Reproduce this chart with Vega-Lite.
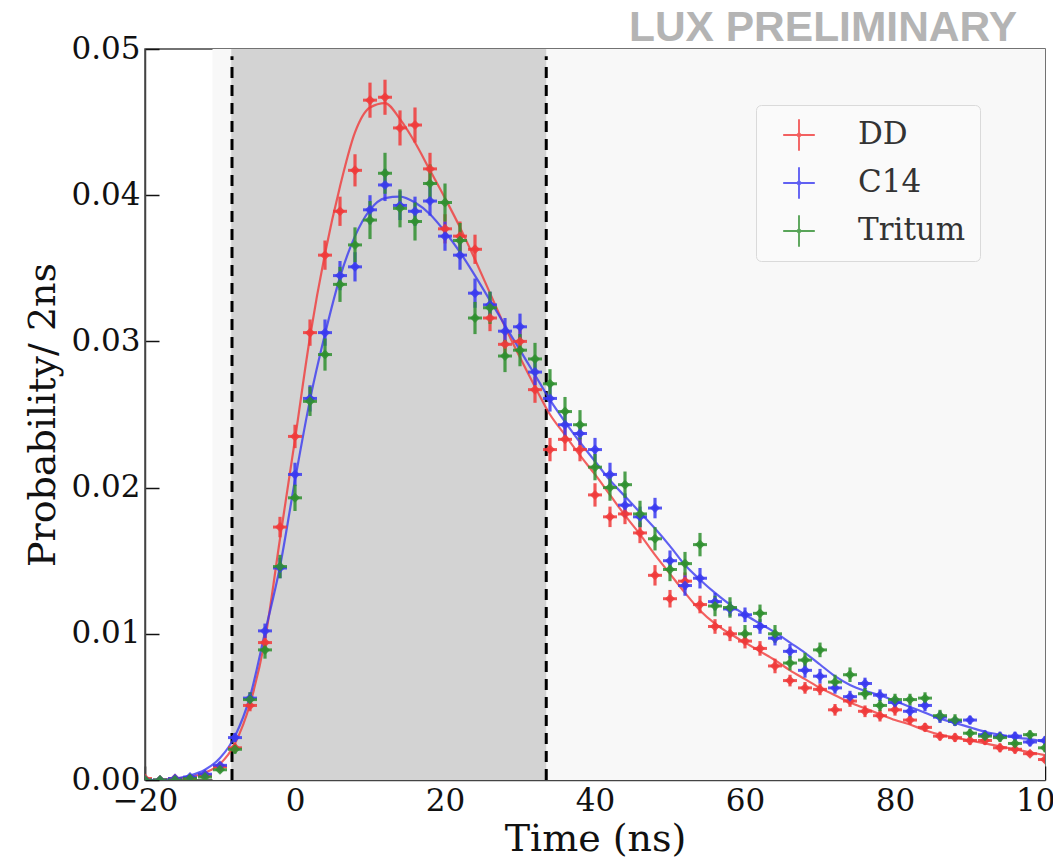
{
  "$schema": "https://vega.github.io/schema/vega-lite/v6.json",
  "width": 900,
  "height": 731,
  "autosize": "none",
  "padding": {"left": 145, "top": 49, "right": 8, "bottom": 83},
  "background": "white",
  "title": {"text": "LUX PRELIMINARY", "anchor": "end", "frame": "group", "font": "Liberation Sans", "fontSize": 42.5, "fontWeight": "bold", "color": "#b4b4b4", "offset": 7, "dx": -28, "dy": 23},
  "config": {
    "view": {"stroke": "#444", "strokeWidth": 1.5},
    "axis": {"labelFont": "DejaVu Serif", "labelFontSize": 31, "labelColor": "#111", "labelFlush": false, "labelOverlap": false, "titleFont": "DejaVu Serif", "titleFontSize": 38, "titleFontWeight": "normal", "titleColor": "#111", "tickSize": -14, "tickColor": "#111", "tickWidth": 1.5, "domainColor": "#444", "domainWidth": 1.5, "grid": false},
    "axisY": {"titlePadding": 8, "labelPadding": 19},
    "axisX": {"titlePadding": 4, "labelPadding": 20}
  },
  "datasets": {
    "pts": [
      {"s":"DD","t":-20,"v":0.0001,"e":0.0001},{"s":"DD","t":-18,"v":0.0000,"e":0.0001},{"s":"DD","t":-16,"v":0.0001,"e":0.0001},{"s":"DD","t":-14,"v":0.0001,"e":0.0001},{"s":"DD","t":-12,"v":0.0003,"e":0.0001},{"s":"DD","t":-10,"v":0.0009,"e":0.0002},{"s":"DD","t":-8,"v":0.0022,"e":0.0003},{"s":"DD","t":-6,"v":0.0051,"e":0.0004},{"s":"DD","t":-4,"v":0.0094,"e":0.0005},{"s":"DD","t":-2,"v":0.0173,"e":0.0007},{"s":"DD","t":0,"v":0.0235,"e":0.0008},{"s":"DD","t":2,"v":0.0306,"e":0.0009},{"s":"DD","t":4,"v":0.0359,"e":0.0010},{"s":"DD","t":6,"v":0.0389,"e":0.0010},{"s":"DD","t":8,"v":0.0417,"e":0.0011},{"s":"DD","t":10,"v":0.0465,"e":0.0012},{"s":"DD","t":12,"v":0.0467,"e":0.0012},{"s":"DD","t":14,"v":0.0446,"e":0.0012},{"s":"DD","t":16,"v":0.0448,"e":0.0012},{"s":"DD","t":18,"v":0.0418,"e":0.0011},{"s":"DD","t":20,"v":0.0377,"e":0.0010},{"s":"DD","t":22,"v":0.0372,"e":0.0010},{"s":"DD","t":24,"v":0.0363,"e":0.0010},{"s":"DD","t":26,"v":0.0316,"e":0.0009},{"s":"DD","t":28,"v":0.0298,"e":0.0009},{"s":"DD","t":30,"v":0.0300,"e":0.0009},{"s":"DD","t":32,"v":0.0267,"e":0.0009},{"s":"DD","t":34,"v":0.0226,"e":0.0008},{"s":"DD","t":36,"v":0.0233,"e":0.0008},{"s":"DD","t":38,"v":0.0226,"e":0.0008},{"s":"DD","t":40,"v":0.0195,"e":0.0008},{"s":"DD","t":42,"v":0.0180,"e":0.0007},{"s":"DD","t":44,"v":0.0182,"e":0.0007},{"s":"DD","t":46,"v":0.0169,"e":0.0007},{"s":"DD","t":48,"v":0.0140,"e":0.0007},{"s":"DD","t":50,"v":0.0124,"e":0.0006},{"s":"DD","t":52,"v":0.0136,"e":0.0006},{"s":"DD","t":54,"v":0.0120,"e":0.0006},{"s":"DD","t":56,"v":0.0105,"e":0.0005},{"s":"DD","t":58,"v":0.0100,"e":0.0005},{"s":"DD","t":60,"v":0.0095,"e":0.0005},{"s":"DD","t":62,"v":0.0090,"e":0.0005},{"s":"DD","t":64,"v":0.0078,"e":0.0005},{"s":"DD","t":66,"v":0.0068,"e":0.0004},{"s":"DD","t":68,"v":0.0063,"e":0.0004},{"s":"DD","t":70,"v":0.0062,"e":0.0004},{"s":"DD","t":72,"v":0.0048,"e":0.0004},{"s":"DD","t":74,"v":0.0054,"e":0.0004},{"s":"DD","t":76,"v":0.0047,"e":0.0004},{"s":"DD","t":78,"v":0.0044,"e":0.0004},{"s":"DD","t":80,"v":0.0048,"e":0.0004},{"s":"DD","t":82,"v":0.0041,"e":0.0003},{"s":"DD","t":84,"v":0.0036,"e":0.0003},{"s":"DD","t":86,"v":0.0030,"e":0.0003},{"s":"DD","t":88,"v":0.0029,"e":0.0003},{"s":"DD","t":90,"v":0.0027,"e":0.0003},{"s":"DD","t":92,"v":0.0027,"e":0.0003},{"s":"DD","t":94,"v":0.0022,"e":0.0003},{"s":"DD","t":96,"v":0.0021,"e":0.0003},{"s":"DD","t":98,"v":0.0018,"e":0.0002},{"s":"DD","t":100,"v":0.0014,"e":0.0002},
      {"s":"C14","t":-20,"v":0.0000,"e":0.0001},{"s":"C14","t":-18,"v":0.0000,"e":0.0001},{"s":"C14","t":-16,"v":0.0001,"e":0.0001},{"s":"C14","t":-14,"v":0.0002,"e":0.0001},{"s":"C14","t":-12,"v":0.0004,"e":0.0001},{"s":"C14","t":-10,"v":0.0010,"e":0.0002},{"s":"C14","t":-8,"v":0.0029,"e":0.0003},{"s":"C14","t":-6,"v":0.0056,"e":0.0004},{"s":"C14","t":-4,"v":0.0102,"e":0.0005},{"s":"C14","t":-2,"v":0.0145,"e":0.0007},{"s":"C14","t":0,"v":0.0209,"e":0.0008},{"s":"C14","t":2,"v":0.0261,"e":0.0009},{"s":"C14","t":4,"v":0.0306,"e":0.0009},{"s":"C14","t":6,"v":0.0345,"e":0.0010},{"s":"C14","t":8,"v":0.0351,"e":0.0010},{"s":"C14","t":10,"v":0.0390,"e":0.0010},{"s":"C14","t":12,"v":0.0407,"e":0.0011},{"s":"C14","t":14,"v":0.0393,"e":0.0010},{"s":"C14","t":16,"v":0.0389,"e":0.0010},{"s":"C14","t":18,"v":0.0396,"e":0.0010},{"s":"C14","t":20,"v":0.0372,"e":0.0010},{"s":"C14","t":22,"v":0.0359,"e":0.0010},{"s":"C14","t":24,"v":0.0333,"e":0.0010},{"s":"C14","t":26,"v":0.0325,"e":0.0009},{"s":"C14","t":28,"v":0.0307,"e":0.0009},{"s":"C14","t":30,"v":0.0310,"e":0.0009},{"s":"C14","t":32,"v":0.0279,"e":0.0009},{"s":"C14","t":34,"v":0.0261,"e":0.0009},{"s":"C14","t":36,"v":0.0243,"e":0.0008},{"s":"C14","t":38,"v":0.0237,"e":0.0008},{"s":"C14","t":40,"v":0.0226,"e":0.0008},{"s":"C14","t":42,"v":0.0209,"e":0.0008},{"s":"C14","t":44,"v":0.0188,"e":0.0008},{"s":"C14","t":46,"v":0.0180,"e":0.0007},{"s":"C14","t":48,"v":0.0186,"e":0.0007},{"s":"C14","t":50,"v":0.0150,"e":0.0007},{"s":"C14","t":52,"v":0.0133,"e":0.0007},{"s":"C14","t":54,"v":0.0138,"e":0.0007},{"s":"C14","t":56,"v":0.0122,"e":0.0006},{"s":"C14","t":58,"v":0.0117,"e":0.0005},{"s":"C14","t":60,"v":0.0113,"e":0.0005},{"s":"C14","t":62,"v":0.0105,"e":0.0005},{"s":"C14","t":64,"v":0.0097,"e":0.0005},{"s":"C14","t":66,"v":0.0088,"e":0.0005},{"s":"C14","t":68,"v":0.0075,"e":0.0005},{"s":"C14","t":70,"v":0.0071,"e":0.0005},{"s":"C14","t":72,"v":0.0063,"e":0.0004},{"s":"C14","t":74,"v":0.0057,"e":0.0004},{"s":"C14","t":76,"v":0.0066,"e":0.0004},{"s":"C14","t":78,"v":0.0058,"e":0.0004},{"s":"C14","t":80,"v":0.0053,"e":0.0004},{"s":"C14","t":82,"v":0.0047,"e":0.0004},{"s":"C14","t":84,"v":0.0051,"e":0.0004},{"s":"C14","t":86,"v":0.0043,"e":0.0004},{"s":"C14","t":88,"v":0.0040,"e":0.0003},{"s":"C14","t":90,"v":0.0041,"e":0.0003},{"s":"C14","t":92,"v":0.0031,"e":0.0003},{"s":"C14","t":94,"v":0.0030,"e":0.0003},{"s":"C14","t":96,"v":0.0030,"e":0.0003},{"s":"C14","t":98,"v":0.0026,"e":0.0003},{"s":"C14","t":100,"v":0.0027,"e":0.0003},
      {"s":"Tritum","t":-20,"v":0.0000,"e":0.0001},{"s":"Tritum","t":-18,"v":0.0000,"e":0.0001},{"s":"Tritum","t":-16,"v":0.0000,"e":0.0001},{"s":"Tritum","t":-14,"v":0.0001,"e":0.0001},{"s":"Tritum","t":-12,"v":0.0002,"e":0.0001},{"s":"Tritum","t":-10,"v":0.0007,"e":0.0002},{"s":"Tritum","t":-8,"v":0.0021,"e":0.0003},{"s":"Tritum","t":-6,"v":0.0055,"e":0.0005},{"s":"Tritum","t":-4,"v":0.0089,"e":0.0006},{"s":"Tritum","t":-2,"v":0.0146,"e":0.0008},{"s":"Tritum","t":0,"v":0.0193,"e":0.0009},{"s":"Tritum","t":2,"v":0.0259,"e":0.0010},{"s":"Tritum","t":4,"v":0.0291,"e":0.0011},{"s":"Tritum","t":6,"v":0.0339,"e":0.0012},{"s":"Tritum","t":8,"v":0.0366,"e":0.0012},{"s":"Tritum","t":10,"v":0.0383,"e":0.0013},{"s":"Tritum","t":12,"v":0.0415,"e":0.0014},{"s":"Tritum","t":14,"v":0.0391,"e":0.0013},{"s":"Tritum","t":16,"v":0.0382,"e":0.0013},{"s":"Tritum","t":18,"v":0.0408,"e":0.0013},{"s":"Tritum","t":20,"v":0.0395,"e":0.0013},{"s":"Tritum","t":22,"v":0.0369,"e":0.0012},{"s":"Tritum","t":24,"v":0.0316,"e":0.0011},{"s":"Tritum","t":26,"v":0.0323,"e":0.0011},{"s":"Tritum","t":28,"v":0.0290,"e":0.0011},{"s":"Tritum","t":30,"v":0.0294,"e":0.0011},{"s":"Tritum","t":32,"v":0.0288,"e":0.0011},{"s":"Tritum","t":34,"v":0.0271,"e":0.0010},{"s":"Tritum","t":36,"v":0.0252,"e":0.0010},{"s":"Tritum","t":38,"v":0.0243,"e":0.0010},{"s":"Tritum","t":40,"v":0.0214,"e":0.0009},{"s":"Tritum","t":42,"v":0.0200,"e":0.0009},{"s":"Tritum","t":44,"v":0.0202,"e":0.0009},{"s":"Tritum","t":46,"v":0.0182,"e":0.0009},{"s":"Tritum","t":48,"v":0.0165,"e":0.0008},{"s":"Tritum","t":50,"v":0.0144,"e":0.0008},{"s":"Tritum","t":52,"v":0.0148,"e":0.0008},{"s":"Tritum","t":54,"v":0.0161,"e":0.0008},{"s":"Tritum","t":56,"v":0.0119,"e":0.0007},{"s":"Tritum","t":58,"v":0.0118,"e":0.0007},{"s":"Tritum","t":60,"v":0.0100,"e":0.0006},{"s":"Tritum","t":62,"v":0.0114,"e":0.0006},{"s":"Tritum","t":64,"v":0.0100,"e":0.0006},{"s":"Tritum","t":66,"v":0.0080,"e":0.0005},{"s":"Tritum","t":68,"v":0.0082,"e":0.0005},{"s":"Tritum","t":70,"v":0.0089,"e":0.0005},{"s":"Tritum","t":72,"v":0.0067,"e":0.0005},{"s":"Tritum","t":74,"v":0.0072,"e":0.0005},{"s":"Tritum","t":76,"v":0.0059,"e":0.0004},{"s":"Tritum","t":78,"v":0.0051,"e":0.0004},{"s":"Tritum","t":80,"v":0.0055,"e":0.0004},{"s":"Tritum","t":82,"v":0.0055,"e":0.0004},{"s":"Tritum","t":84,"v":0.0056,"e":0.0004},{"s":"Tritum","t":86,"v":0.0044,"e":0.0004},{"s":"Tritum","t":88,"v":0.0041,"e":0.0004},{"s":"Tritum","t":90,"v":0.0032,"e":0.0003},{"s":"Tritum","t":92,"v":0.0030,"e":0.0003},{"s":"Tritum","t":94,"v":0.0029,"e":0.0003},{"s":"Tritum","t":96,"v":0.0025,"e":0.0003},{"s":"Tritum","t":98,"v":0.0031,"e":0.0003},{"s":"Tritum","t":100,"v":0.0022,"e":0.0003}
    ],
    "fit": [
      {"s":"DD","t":-20,"v":0.0000},{"s":"DD","t":-18,"v":0.0000},{"s":"DD","t":-16,"v":0.0001},{"s":"DD","t":-14,"v":0.0002},{"s":"DD","t":-12,"v":0.0005},{"s":"DD","t":-10,"v":0.0011},{"s":"DD","t":-8,"v":0.0025},{"s":"DD","t":-6,"v":0.0052},{"s":"DD","t":-4,"v":0.0096},{"s":"DD","t":-2,"v":0.0165},{"s":"DD","t":0,"v":0.0233},{"s":"DD","t":2,"v":0.0303},{"s":"DD","t":4,"v":0.0360},{"s":"DD","t":6,"v":0.0406},{"s":"DD","t":8,"v":0.0443},{"s":"DD","t":10,"v":0.0460},{"s":"DD","t":12,"v":0.0463},{"s":"DD","t":14,"v":0.0452},{"s":"DD","t":16,"v":0.0436},{"s":"DD","t":18,"v":0.0417},{"s":"DD","t":20,"v":0.0398},{"s":"DD","t":22,"v":0.0378},{"s":"DD","t":24,"v":0.0356},{"s":"DD","t":26,"v":0.0333},{"s":"DD","t":28,"v":0.0310},{"s":"DD","t":30,"v":0.0289},{"s":"DD","t":32,"v":0.0269},{"s":"DD","t":34,"v":0.0250},{"s":"DD","t":36,"v":0.0236},{"s":"DD","t":38,"v":0.0222},{"s":"DD","t":40,"v":0.0209},{"s":"DD","t":42,"v":0.0195},{"s":"DD","t":44,"v":0.0181},{"s":"DD","t":46,"v":0.0168},{"s":"DD","t":48,"v":0.0154},{"s":"DD","t":50,"v":0.0141},{"s":"DD","t":52,"v":0.0128},{"s":"DD","t":54,"v":0.0116},{"s":"DD","t":56,"v":0.0107},{"s":"DD","t":58,"v":0.0100},{"s":"DD","t":60,"v":0.0094},{"s":"DD","t":62,"v":0.0088},{"s":"DD","t":64,"v":0.0082},{"s":"DD","t":66,"v":0.0075},{"s":"DD","t":68,"v":0.0069},{"s":"DD","t":70,"v":0.0063},{"s":"DD","t":72,"v":0.0058},{"s":"DD","t":74,"v":0.0053},{"s":"DD","t":76,"v":0.0049},{"s":"DD","t":78,"v":0.0045},{"s":"DD","t":80,"v":0.0041},{"s":"DD","t":82,"v":0.0038},{"s":"DD","t":84,"v":0.0034},{"s":"DD","t":86,"v":0.0031},{"s":"DD","t":88,"v":0.0029},{"s":"DD","t":90,"v":0.0027},{"s":"DD","t":92,"v":0.0025},{"s":"DD","t":94,"v":0.0023},{"s":"DD","t":96,"v":0.0021},{"s":"DD","t":98,"v":0.0019},{"s":"DD","t":100,"v":0.0017},
      {"s":"C14","t":-20,"v":0.0000},{"s":"C14","t":-18,"v":0.0000},{"s":"C14","t":-16,"v":0.0001},{"s":"C14","t":-14,"v":0.0003},{"s":"C14","t":-12,"v":0.0007},{"s":"C14","t":-10,"v":0.0015},{"s":"C14","t":-8,"v":0.0030},{"s":"C14","t":-6,"v":0.0057},{"s":"C14","t":-4,"v":0.0101},{"s":"C14","t":-2,"v":0.0146},{"s":"C14","t":0,"v":0.0205},{"s":"C14","t":2,"v":0.0260},{"s":"C14","t":4,"v":0.0305},{"s":"C14","t":6,"v":0.0344},{"s":"C14","t":8,"v":0.0372},{"s":"C14","t":10,"v":0.0390},{"s":"C14","t":12,"v":0.0398},{"s":"C14","t":14,"v":0.0399},{"s":"C14","t":16,"v":0.0395},{"s":"C14","t":18,"v":0.0387},{"s":"C14","t":20,"v":0.0375},{"s":"C14","t":22,"v":0.0361},{"s":"C14","t":24,"v":0.0345},{"s":"C14","t":26,"v":0.0328},{"s":"C14","t":28,"v":0.0311},{"s":"C14","t":30,"v":0.0294},{"s":"C14","t":32,"v":0.0277},{"s":"C14","t":34,"v":0.0260},{"s":"C14","t":36,"v":0.0245},{"s":"C14","t":38,"v":0.0231},{"s":"C14","t":40,"v":0.0218},{"s":"C14","t":42,"v":0.0205},{"s":"C14","t":44,"v":0.0194},{"s":"C14","t":46,"v":0.0183},{"s":"C14","t":48,"v":0.0172},{"s":"C14","t":50,"v":0.0160},{"s":"C14","t":52,"v":0.0147},{"s":"C14","t":54,"v":0.0137},{"s":"C14","t":56,"v":0.0128},{"s":"C14","t":58,"v":0.0120},{"s":"C14","t":60,"v":0.0113},{"s":"C14","t":62,"v":0.0107},{"s":"C14","t":64,"v":0.0101},{"s":"C14","t":66,"v":0.0094},{"s":"C14","t":68,"v":0.0087},{"s":"C14","t":70,"v":0.0079},{"s":"C14","t":72,"v":0.0071},{"s":"C14","t":74,"v":0.0065},{"s":"C14","t":76,"v":0.0061},{"s":"C14","t":78,"v":0.0058},{"s":"C14","t":80,"v":0.0054},{"s":"C14","t":82,"v":0.0050},{"s":"C14","t":84,"v":0.0046},{"s":"C14","t":86,"v":0.0042},{"s":"C14","t":88,"v":0.0039},{"s":"C14","t":90,"v":0.0036},{"s":"C14","t":92,"v":0.0033},{"s":"C14","t":94,"v":0.0031},{"s":"C14","t":96,"v":0.0029},{"s":"C14","t":98,"v":0.0028},{"s":"C14","t":100,"v":0.0026}
    ]
  },
  "layer": [
    {
      "data": {"values": [{"a": -11, "b": 100}]},
      "mark": {"type": "rect", "color": "#f8f8f8"},
      "encoding": {
        "x": {"field": "a", "type": "quantitative", "title": "Time (ns)", "scale": {"domain": [-20, 100], "nice": false, "zero": false}, "axis": {"values": [-20, 0, 20, 40, 60, 80, 100]}},
        "x2": {"field": "b"},
        "y": {"datum": 0, "type": "quantitative", "title": "Probability/ 2ns", "scale": {"domain": [0, 0.05], "nice": false}, "axis": {"values": [0, 0.01, 0.02, 0.03, 0.04, 0.05], "format": ".2f"}},
        "y2": {"datum": 0.05}
      }
    },
    {
      "data": {"values": [{"a": -8.5, "b": 33.5}]},
      "mark": {"type": "rect", "color": "#d3d3d3"},
      "encoding": {
        "x": {"field": "a", "type": "quantitative", "title": "Time (ns)"},
        "x2": {"field": "b"},
        "y": {"datum": 0, "type": "quantitative", "title": "Probability/ 2ns"},
        "y2": {"datum": 0.05}
      }
    },
    {
      "data": {"values": [{"a": -8.4}, {"a": 33.5}]},
      "mark": {"type": "rule", "color": "#000", "strokeWidth": 3, "strokeDash": [11, 7]},
      "encoding": {
        "x": {"field": "a", "type": "quantitative", "title": "Time (ns)"},
        "y": {"datum": 0, "type": "quantitative", "title": "Probability/ 2ns"},
        "y2": {"datum": 0.0495}
      }
    },
    {
      "data": {"name": "fit"},
      "mark": {"type": "line", "interpolate": "monotone", "strokeWidth": 2.2, "opacity": 0.8, "clip": true},
      "encoding": {
        "x": {"field": "t", "type": "quantitative", "title": "Time (ns)"},
        "y": {"field": "v", "type": "quantitative", "title": "Probability/ 2ns"},
        "color": {"field": "s", "type": "nominal"}
      }
    },
    {
      "data": {"name": "pts"},
      "mark": {"type": "errorbar", "thickness": 3.2, "clip": true, "opacity": 0.85},
      "encoding": {
        "x": {"field": "t", "type": "quantitative", "title": "Time (ns)"},
        "y": {"field": "v", "type": "quantitative", "title": "Probability/ 2ns"},
        "yError": {"field": "e"},
        "color": {"field": "s", "type": "nominal"}
      }
    },
    {
      "data": {"name": "pts"},
      "mark": {"type": "tick", "orient": "horizontal", "size": 14, "thickness": 3, "opacity": 0.85, "clip": true},
      "encoding": {
        "x": {"field": "t", "type": "quantitative", "title": "Time (ns)"},
        "y": {"field": "v", "type": "quantitative", "title": "Probability/ 2ns"},
        "color": {"field": "s", "type": "nominal"}
      }
    },
    {
      "data": {"name": "pts"},
      "mark": {"type": "point", "shape": "diamond", "filled": true, "size": 100, "opacity": 0.85, "clip": true},
      "encoding": {
        "x": {"field": "t", "type": "quantitative", "title": "Time (ns)"},
        "y": {"field": "v", "type": "quantitative", "title": "Probability/ 2ns"},
        "color": {
          "field": "s", "type": "nominal",
          "scale": {"domain": ["DD", "C14", "Tritum"], "range": ["#f03a3a", "#3a3af0", "#2f8f2f"]},
          "legend": {
            "title": null, "orient": "none", "legendX": 611, "legendY": 56,
            "symbolType": "M-0.06,-1H0.06V-0.06H1V0.06H0.06V1H-0.06V0.06H-1V-0.06H-0.06Z M0,-0.2L0.2,0L0,0.2L-0.2,0Z",
            "symbolSize": 1000, "symbolStrokeWidth": 0, "symbolOpacity": 0.9,
            "labelFont": "DejaVu Serif", "labelFontSize": 31, "labelColor": "#333",
            "padding": 14, "symbolOffset": 13, "labelOffset": 43, "rowPadding": 16,
            "fillColor": "#fafafa", "strokeColor": "#dadada", "cornerRadius": 5
          }
        }
      }
    }
  ]
}
